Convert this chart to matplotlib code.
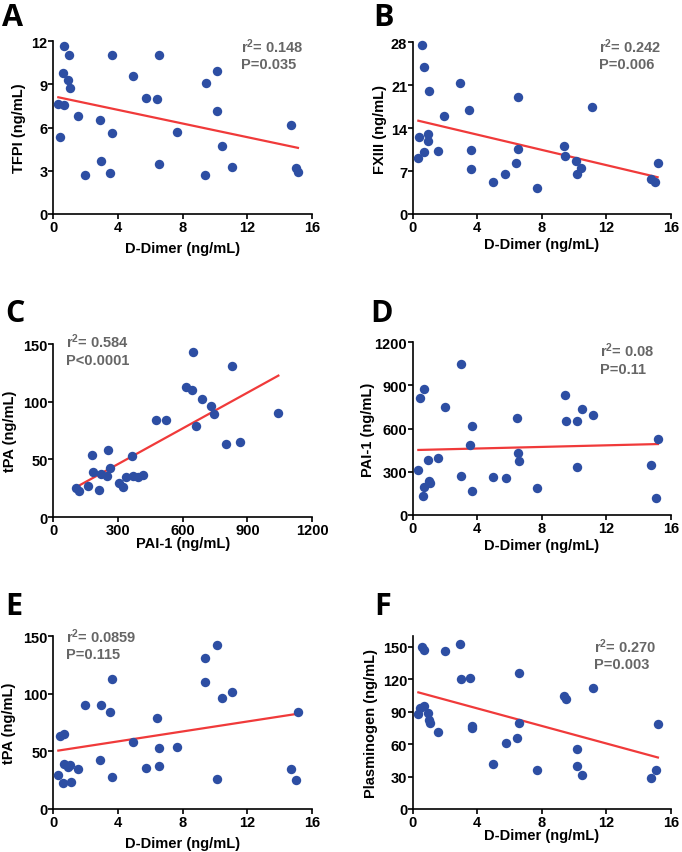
import numpy as np
import matplotlib
matplotlib.use("Agg")
import matplotlib.pyplot as plt

plt.rcParams['font.family'] = ['Liberation Sans', 'DejaVu Sans']
plt.rcParams['mathtext.fontset'] = 'custom'
plt.rcParams['mathtext.rm'] = 'Liberation Sans:bold'
plt.rcParams['mathtext.bf'] = 'Liberation Sans:bold'
plt.rcParams['mathtext.it'] = 'Liberation Sans:bold'

# ---------------- data ----------------
# Panel A: D-Dimer vs TFPI
a_x = [0.68, 0.99, 3.63, 6.56, 0.58, 10.14, 0.93, 4.95, 9.42, 1.03, 5.73, 6.43, 0.31, 0.68, 10.10,
       1.55, 2.91, 14.72, 0.41, 3.61, 7.67, 10.41, 2.93, 6.54, 11.07, 1.96, 3.51, 9.38, 14.99, 15.13]
a_y = [11.66, 11.08, 11.04, 11.04, 9.77, 9.93, 9.28, 9.56, 9.10, 8.78, 8.06, 7.97, 7.64, 7.55, 7.18,
       6.84, 6.51, 6.17, 5.36, 5.61, 5.73, 4.73, 3.70, 3.46, 3.30, 2.70, 2.86, 2.70, 3.21, 2.93]

# Panel B: D-Dimer vs FXIII
b_x = [0.56, 0.68, 2.93, 1.03, 6.55, 11.09, 3.51, 1.96, 0.39, 0.97, 0.93, 0.68, 0.35, 1.55, 3.61,
       3.59, 4.96, 5.72, 6.42, 6.53, 7.69, 9.38, 9.44, 10.10, 10.16, 10.43, 14.75, 15.02, 15.17]
b_y = [27.57, 23.90, 21.30, 20.00, 19.06, 17.45, 17.00, 15.90, 12.50, 13.00, 11.85, 10.10, 9.15, 10.20, 10.40,
       7.27, 5.17, 6.46, 8.24, 10.66, 4.31, 11.09, 9.42, 8.72, 6.57, 7.54, 5.71, 5.22, 8.35]

# Panel C: PAI-1 vs tPA
c_x = [649, 827, 614, 642, 688, 731, 747, 1044, 478, 523, 662, 803, 867, 179, 255,
       365, 182, 221, 249, 261, 336, 371, 391, 418, 305, 325, 159, 105, 119, 212]
c_y = [142.8, 130.6, 112.4, 110.1, 102.0, 96.5, 89.6, 90.5, 84.1, 84.1, 78.9, 63.0, 65.3, 53.8, 57.8,
       53.2, 39.3, 37.6, 35.3, 42.2, 34.4, 35.5, 34.4, 36.7, 29.2, 26.3, 27.2, 25.4, 22.3, 23.1]

# Panel D: D-Dimer vs PAI-1
d_x = [3.00, 0.72, 0.45, 2.00, 9.44, 10.48, 11.14, 6.47, 9.48, 10.17, 3.66, 3.55, 15.19, 6.55, 6.59,
       1.59, 0.97, 0.35, 10.19, 14.79, 2.98, 5.00, 5.79, 1.03, 1.10, 0.72, 3.66, 7.73, 0.62, 15.06]
d_y = [1049, 875, 810, 752, 833, 738, 696, 670, 650, 654, 619, 487, 527, 427, 371,
       397, 380, 313, 332, 346, 269, 264, 257, 234, 220, 193, 167, 188, 128, 116]

# Panel E: D-Dimer vs tPA
e_x = [10.12, 9.38, 3.61, 9.38, 11.07, 10.41, 1.96, 2.95, 3.51, 15.11, 6.43, 0.41, 0.68, 4.95, 6.56,
       7.67, 0.68, 0.93, 1.03, 1.55, 2.91, 5.73, 6.54, 0.31, 3.61, 10.12, 14.72, 15.01, 0.58, 1.07]
e_y = [142.8, 130.9, 113.0, 110.1, 102.0, 96.8, 89.9, 90.5, 84.1, 84.1, 78.9, 63.0, 65.3, 58.1, 53.2,
       53.8, 39.3, 36.4, 37.9, 34.7, 42.2, 35.3, 37.0, 29.2, 27.7, 26.0, 34.4, 25.1, 22.3, 23.1]

# Panel F: D-Dimer vs Plasminogen
f_x = [2.95, 0.60, 0.72, 2.00, 6.59, 2.98, 3.55, 11.14, 9.40, 9.48, 0.45, 0.72, 0.35, 0.97, 1.03,
       1.10, 3.66, 3.66, 15.19, 6.59, 1.59, 6.47, 5.79, 10.19, 5.00, 10.17, 7.73, 10.48, 15.06, 14.79]
f_y = [152.5, 150.0, 147.5, 146.3, 125.6, 120.0, 120.7, 112.3, 104.6, 101.9, 93.5, 95.0, 88.0, 88.6, 82.7,
       79.9, 76.5, 75.0, 78.7, 79.3, 71.0, 66.0, 61.1, 55.9, 41.7, 40.1, 36.4, 31.2, 36.4, 28.4]

panel_letters = ["A", "B", "C", "D", "E", "F"]
x_labels = ["D-Dimer (ng/mL)", "D-Dimer (ng/mL)", "PAI-1 (ng/mL)",
            "D-Dimer (ng/mL)", "D-Dimer (ng/mL)", "D-Dimer (ng/mL)"]
y_labels = ["TFPI (ng/mL)", "FXIII (ng/mL)", "tPA (ng/mL)",
            "PAI-1 (ng/mL)", "tPA (ng/mL)", "Plasminogen (ng/mL)"]
r2_texts = ["0.148", "0.242", "0.584", "0.08", "0.0859", "0.270"]
p_texts = ["P=0.035", "P=0.006", "P<0.0001", "P=0.11", "P=0.115", "P=0.003"]
x_ticks_dimer = [0, 4, 8, 12, 16]
x_ticks_pai = [0, 300, 600, 900, 1200]
y_ticks_list = [[0, 3, 6, 9, 12], [0, 7, 14, 21, 28], [0, 50, 100, 150],
                [0, 300, 600, 900, 1200], [0, 50, 100, 150], [0, 30, 60, 90, 120, 150]]
y_lims = [(0, 12), (0, 28), (0, 150), (0, 1200), (0, 150), (0, 160)]

# ---------------- layout ----------------
W, H = 682, 853
fig = plt.figure(figsize=(W / 100, H / 100), dpi=100)

def px_axes(left, top, right, bottom):
    return [left / W, 1 - bottom / H, (right - left) / W, (bottom - top) / H]

axes_px = [
    (53.3, 42.3, 312.0, 215.0),
    (412.7, 43.3, 671.0, 215.0),
    (53.3, 345.0, 312.0, 518.0),
    (412.7, 343.3, 671.0, 515.7),
    (53.3, 637.3, 312.0, 810.0),
    (412.7, 637.0, 671.0, 810.0),
]
letter_pos = [(2, 26.5), (373, 26.5), (5, 322), (370, 322), (5, 615), (374, 615)]
# (x, baseline line 1, baseline line 2) in axes fractions
text_pos = [(0.724, 0.940, 0.845), (0.721, 0.942, 0.849), (0.048, 0.981, 0.884),
            (0.724, 0.921, 0.820), (0.048, 0.969, 0.873), (0.700, 0.909, 0.813)]
ylabel_x = [-0.106, -0.100, -0.139, -0.145, -0.144, -0.133]
xlabel_y = [-0.218, -0.198, -0.175, -0.199, -0.222, -0.172]

xs = [a_x, b_x, c_x, d_x, e_x, f_x]
ys = [a_y, b_y, c_y, d_y, e_y, f_y]

dot_color = "#2d4ea3"
line_color = "#f03a3a"
gray = "#666666"

for i in range(6):
    ax = fig.add_axes(px_axes(*axes_px[i]))
    x = np.array(xs[i], dtype=float)
    y = np.array(ys[i], dtype=float)
    ax.scatter(x, y, s=46, color=dot_color, zorder=3, clip_on=False, linewidths=0)
    k, b0 = np.polyfit(x, y, 1)
    xx = np.array([x.min(), x.max()])
    ax.plot(xx, k * xx + b0, color=line_color, lw=1.6, zorder=2)

    if i == 2:
        ax.set_xlim(0, 1200)
        ax.set_xticks(x_ticks_pai)
    else:
        ax.set_xlim(0, 16)
        ax.set_xticks(x_ticks_dimer)
    ax.set_ylim(*y_lims[i])
    ax.set_yticks(y_ticks_list[i])

    for s in ["top", "right"]:
        ax.spines[s].set_visible(False)
    for s in ["left", "bottom"]:
        ax.spines[s].set_linewidth(1.2)
    ax.tick_params(axis="both", direction="out", length=3.5, width=1.2, labelsize=10.5)
    ax.tick_params(axis="y", pad=0.5)
    ax.tick_params(axis="x", pad=1.0)
    for lab in ax.get_xticklabels() + ax.get_yticklabels():
        lab.set_fontweight("bold")

    ax.set_xlabel(x_labels[i], fontsize=10.5, fontweight="bold")
    ax.set_ylabel(y_labels[i], fontsize=10.5, fontweight="bold")
    ax.yaxis.set_label_coords(ylabel_x[i], 0.5)
    ax.xaxis.set_label_coords(0.5, xlabel_y[i])
    ax.xaxis.label.set_verticalalignment("baseline")

    tx, ty1, ty2 = text_pos[i]
    ax.text(tx, ty1, r"$\mathbf{r^2}$= " + r2_texts[i], transform=ax.transAxes,
            fontsize=10.5, fontweight="bold", color=gray, va="baseline", ha="left")
    ax.text(tx, ty2, p_texts[i], transform=ax.transAxes,
            fontsize=10.5, fontweight="bold", color=gray, va="baseline", ha="left")

    lx, ly = letter_pos[i]
    fig.text(lx / W, 1 - ly / H, panel_letters[i], fontsize=22, fontweight="bold",
             family=["Open Sans", "DejaVu Sans"], va="baseline", ha="left")

fig.savefig("out.png", dpi=100)
